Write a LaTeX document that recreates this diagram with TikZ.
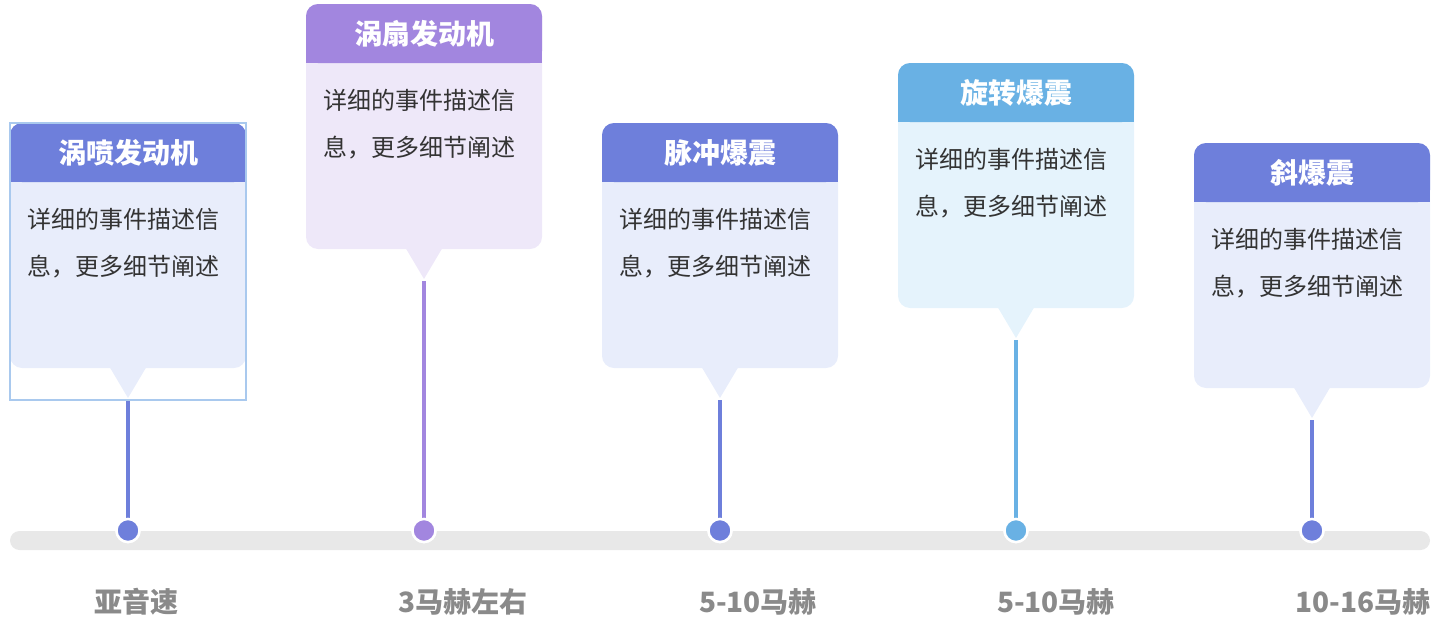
\documentclass[tikz,border=0pt]{standalone}
\usepackage{fontspec}
\setmainfont{Noto Sans CJK SC}
\definecolor{hdrA}{HTML}{6E7FDB}
\definecolor{bodyA}{HTML}{E8EDFB}
\definecolor{hdrB}{HTML}{A286DF}
\definecolor{bodyB}{HTML}{EEE8F9}
\definecolor{hdrC}{HTML}{69B1E4}
\definecolor{bodyC}{HTML}{E5F3FC}
\definecolor{barc}{HTML}{E8E8E8}
\definecolor{lblc}{HTML}{8A8A8A}
\definecolor{txtc}{HTML}{333333}
\definecolor{selc}{HTML}{A9C9EE}
\tikzset{
  cardbody/.style={rectangle, rounded corners=12pt, minimum width=236pt, minimum height=245pt, inner sep=0pt, draw=none},
  cardhead/.style={rectangle, rounded corners=12pt, minimum width=236pt, minimum height=59pt, inner sep=0pt, draw=none, text=white, font=\fontsize{28}{31}\selectfont\bfseries},
  bodytext/.style={anchor=base west, inner sep=0pt, text=txtc, font=\fontsize{24}{28}\selectfont},
  stem/.style={line width=4pt},
  tldot/.style={circle, minimum size=23.1pt, inner sep=0pt, draw=white, line width=2.5pt},
  tllabel/.style={inner sep=0pt, text=lblc, font=\fontsize{28}{31}\selectfont\bfseries},
  selbox/.style={draw=selc, line width=1.5pt},
}
% #1 name, #2 center x, #3 top y, #4 header colour, #5 body colour, #6 title
\newcommand\tlcard[6]{%
  \node[cardbody, fill=#5] (#1b) at (#2,#3+122.5) {};
  \fill[#5] (#2-19,#3+243) -- (#2+19,#3+243) -- (#2,#3+275) -- cycle;
  \fill[#4] (#2-118,#3+29.5) rectangle (#2+118,#3+59);
  \node[cardhead, fill=#4] (#1h) at (#2,#3+29.5) {#6};
  \node[bodytext] (#1l1) at (#2-101,#3+59+46) {详细的事件描述信};
  \node[bodytext] (#1l2) at (#2-101,#3+59+93) {息，更多细节阐述};
  \coordinate (#1t) at (#2,#3+277);
  \node[tldot, fill=#4] (#1d) at (#2,530.5) {};
  \draw[stem, #4] (#1t) -- (#1d);
  \node[tldot, fill=#4] at (#1d) {};
}
\begin{document}
\begin{tikzpicture}[x=1pt,y=-1pt]
  \useasboundingbox (0,0) rectangle (1445,635);
  \node[rectangle, fill=barc, rounded corners=9.5pt, minimum width=1420pt, minimum height=19pt, inner sep=0pt] (bar) at (720,540.5) {};
  \tlcard{c1}{128}{123}{hdrA}{bodyA}{涡喷发动机}
  \tlcard{c2}{424}{4}{hdrB}{bodyB}{涡扇发动机}
  \tlcard{c3}{720}{123}{hdrA}{bodyA}{脉冲爆震}
  \tlcard{c4}{1016}{63}{hdrC}{bodyC}{旋转爆震}
  \tlcard{c5}{1312}{143}{hdrA}{bodyA}{斜爆震}
  \draw[selbox] (c1b.north west) rectangle (c1b.east |- c1t);
  \node[tllabel] (s1) at (136,602) {亚音速};
  \node[tllabel] (s2) at (463,602) {3马赫左右};
  \node[tllabel] (s3) at (758,602) {5-10马赫};
  \node[tllabel] (s4) at (1056,602) {5-10马赫};
  \node[tllabel] (s5) at (1363,602) {10-16马赫};
\end{tikzpicture}
\end{document}
